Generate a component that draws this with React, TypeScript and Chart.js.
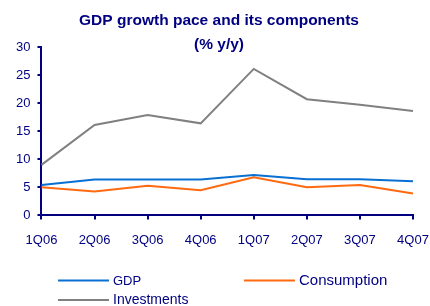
import React, { useEffect, useRef } from "react";
import { Chart, registerables } from "chart.js";

Chart.register(...registerables);

const quarters = ["1Q06", "2Q06", "3Q06", "4Q06", "1Q07", "2Q07", "3Q07", "4Q07"];
const gdp = [5.4, 6.4, 6.4, 6.4, 7.2, 6.45, 6.45, 6.1];
const consumption = [5.0, 4.25, 5.3, 4.5, 6.8, 5.0, 5.4, 3.9];
const investments = [9.0, 16.1, 17.9, 16.4, 26.1, 20.7, 19.7, 18.6];
const yTicks = [0, 5, 10, 15, 20, 25, 30];
const titleLines = ["GDP growth pace and its components", "(% y/y)"];

const NAVY = "#000080";
const FONT = '"Liberation Sans", Arial, sans-serif';

const overlayPlugin = {
  id: "overlay",
  afterDraw(chart: any) {
    const ctx = chart.ctx;
    ctx.save();
    ctx.fillStyle = NAVY;
    ctx.textAlign = "center";
    ctx.textBaseline = "middle";
    ctx.font = `bold 15.5px ${FONT}`;
    ctx.fillText(titleLines[0], 219, 21);
    ctx.fillText(titleLines[1], 219, 45);

    const items = [
      { x: 58, y: 280.5, size: 13 },
      { x: 244, y: 280.5, size: 15 },
      { x: 58, y: 300, size: 14 },
    ];
    chart.data.datasets.forEach((ds: any, i: number) => {
      const it = items[i];
      ctx.strokeStyle = ds.borderColor;
      ctx.lineWidth = 2;
      ctx.beginPath();
      ctx.moveTo(it.x, it.y);
      ctx.lineTo(it.x + 51, it.y);
      ctx.stroke();
      ctx.fillStyle = NAVY;
      ctx.textAlign = "left";
      ctx.textBaseline = "middle";
      ctx.font = `${it.size}px ${FONT}`;
      ctx.fillText(ds.label, it.x + 55, it.y + 0.5);
    });
    ctx.restore();
  },
};

export default function App() {
  const ref = useRef<HTMLCanvasElement | null>(null);
  useEffect(() => {
    document.body.style.margin = "0";
    if (!ref.current) return;
    const chart = new Chart(ref.current, {
      type: "line",
      data: {
        labels: quarters,
        datasets: [
          { label: "GDP", data: gdp, borderColor: "#0a6fd2", borderWidth: 2, pointRadius: 0, tension: 0 },
          { label: "Consumption", data: consumption, borderColor: "#ff6a10", borderWidth: 2, pointRadius: 0, tension: 0 },
          { label: "Investments", data: investments, borderColor: "#808080", borderWidth: 2, pointRadius: 0, tension: 0 },
        ],
      },
      options: {
        responsive: false,
        animation: false,
        layout: { padding: { top: 47, left: 9, right: 17, bottom: 45 } },
        plugins: {
          legend: { display: false },
          title: { display: false },
          tooltip: { enabled: false },
        },
        scales: {
          x: {
            offset: false,
            afterFit: (axis: any) => {
              axis.paddingLeft = 0;
              axis.paddingRight = 0;
            },
            grid: { display: true, drawOnChartArea: false, drawTicks: true, tickLength: 4, color: NAVY, lineWidth: 2 },
            border: { display: true, color: NAVY, width: 2 },
            ticks: { color: NAVY, font: { family: FONT, size: 13 }, padding: 13, maxRotation: 0, autoSkip: false },
          },
          y: {
            min: 0,
            max: 30,
            afterBuildTicks: (axis: any) => {
              axis.ticks = yTicks.map((v) => ({ value: v }));
            },
            grid: { display: true, drawOnChartArea: false, drawTicks: true, tickLength: 4, color: NAVY, lineWidth: 2 },
            border: { display: true, color: NAVY, width: 2 },
            ticks: { color: NAVY, font: { family: FONT, size: 13 }, padding: 7 },
          },
        },
      },
      plugins: [overlayPlugin],
    });
    return () => chart.destroy();
  }, []);
  return (
    <div style={{ width: 430, height: 306, position: "relative", background: "#fff" }}>
      <canvas ref={ref} width={430} height={306} />
    </div>
  );
}
